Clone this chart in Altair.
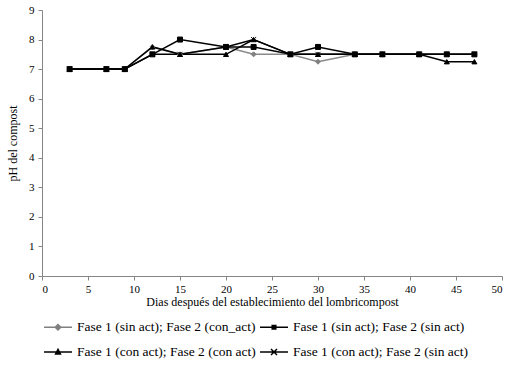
import altair as alt
import pandas as pd

days = [3, 7, 9, 12, 15, 20, 23, 27, 30, 34, 37, 41, 44, 47]
series_names = [
    "Fase 1 (sin act); Fase 2 (con_act)",
    "Fase 1 (sin act); Fase 2 (sin act)",
    "Fase 1 (con act); Fase 2 (con act)",
    "Fase 1 (con act); Fase 2 (sin act)",
]
s1 = [7, 7, 7, 7.75, 7.5, 7.75, 7.5, 7.5, 7.25, 7.5, 7.5, 7.5, 7.5, 7.5]
s2 = [7, 7, 7, 7.5, 8, 7.75, 7.75, 7.5, 7.75, 7.5, 7.5, 7.5, 7.5, 7.5]
s3 = [7, 7, 7, 7.75, 7.5, 7.5, 8, 7.5, 7.5, 7.5, 7.5, 7.5, 7.25, 7.25]
s4 = [7, 7, 7, 7.5, 7.5, 7.75, 8, 7.5, 7.5, 7.5, 7.5, 7.5, 7.5, 7.5]

line_colors = ["#8a8a8a", "#000000", "#000000", "#000000"]
fills = ["#808080", "#000000", "#000000", "transparent"]
strokes = ["#808080", "#000000", "#000000", "#000000"]
shapes = [
    "diamond",
    "square",
    "triangle-up",
    "M-1,-1L1,1M-1,1L1,-1",
]
legend_shapes = [
    "M-1.4,0H1.4M0,-0.28L0.28,0L0,0.28L-0.28,0Z",
    "M-1.4,0H1.4M-0.18,-0.18H0.18V0.18H-0.18Z",
    "M-1.4,0H1.4M0,-0.26L0.24,0.2H-0.24Z",
    "M-1.4,0H1.4M-0.3,-0.3L0.3,0.3M-0.3,0.3L0.3,-0.3",
]

rows = []
for i, vals in enumerate([s1, s2, s3, s4]):
    for d, v in zip(days, vals):
        rows.append({
            "dia": d, "ph": v, "serie": series_names[i], "idx": i,
            "lc": line_colors[i], "fc": fills[i], "sc": strokes[i], "shp": shapes[i],
        })
df = pd.DataFrame(rows)

FONT = "Liberation Serif"

x = alt.X("dia:Q", scale=alt.Scale(domain=[0, 50], nice=False),
          axis=alt.Axis(values=list(range(0, 51, 5)), title="Dias después del establecimiento del lombricompost",
                        titlePadding=2, labelPadding=3, titleFontSize=12))
y = alt.Y("ph:Q", scale=alt.Scale(domain=[0, 9], nice=False),
          axis=alt.Axis(values=list(range(0, 10)), title="pH del compost", titlePadding=9, labelPadding=4,
                        titleFontSize=12))

base = alt.Chart(df)

lines = base.mark_line(strokeWidth=1.5).encode(
    x=x, y=y,
    detail="serie:N",
    color=alt.Color("lc:N", scale=None),
    order="dia:Q",
)

points = base.mark_point(size=25, strokeWidth=1, opacity=1).encode(
    x=x, y=y,
    fill=alt.Fill("fc:N", scale=None),
    stroke=alt.Stroke("sc:N", scale=None),
    shape=alt.Shape("shp:N", scale=None),
)

legend = alt.Legend(
    title=None, orient="none", legendX=5, legendY=306, columns=2, direction="horizontal",
    symbolSize=400, symbolStrokeWidth=1.5, labelOffset=8, columnPadding=1, rowPadding=7,
    labelFont=FONT, labelFontSize=13.5, labelColor="#000000", padding=0, labelLimit=400,
)

legend_layer = base.transform_filter("false").mark_point(filled=False).encode(
    x=x, y=y,
    shape=alt.Shape("serie:N", scale=alt.Scale(domain=series_names, range=legend_shapes), legend=legend),
    fill=alt.Fill("serie:N", scale=alt.Scale(domain=series_names, range=fills[:3] + ["#000000"]), legend=legend),
    stroke=alt.Stroke("serie:N", scale=alt.Scale(domain=series_names, range=strokes), legend=legend),
)

chart = alt.layer(lines, points, legend_layer).properties(
    width=460, height=266,
    autosize=alt.AutoSizeParams(type="none"),
    padding={"left": 42, "top": 10, "right": 13, "bottom": 100},
    background="white",
).configure_view(stroke=None).configure_axis(
    grid=False, domainColor="#868686", tickColor="#868686", tickSize=4,
    labelFont=FONT, labelFontSize=11, labelColor="#000000",
    titleFont=FONT, titleFontSize=11, titleFontWeight="normal", titleColor="#000000",
)

chart.save("out.html", embed_options={"renderer": "svg", "actions": False})
